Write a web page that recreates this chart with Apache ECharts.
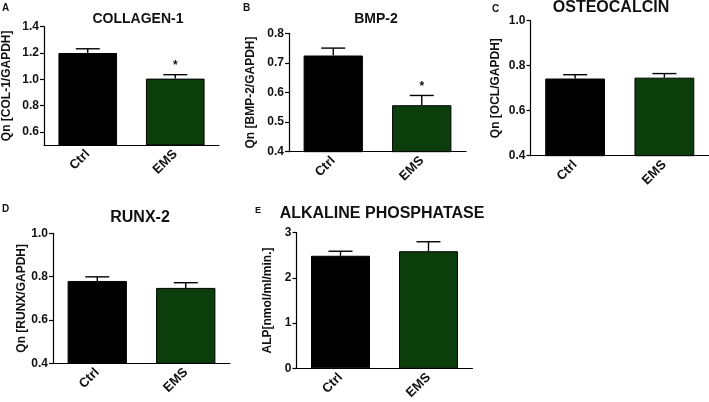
<!DOCTYPE html>
<html><head><meta charset="utf-8">
<script src="https://cdn.jsdelivr.net/npm/echarts@6/dist/echarts.min.js"></script>
<style>html,body{margin:0;padding:0;background:#fff}#c{width:709px;height:402px}</style>
</head><body><div id="c"></div>
<script>
// ---- data ----
const categories = ['Ctrl', 'EMS'];
const panelLetters = ['A', 'B', 'C', 'D', 'E'];
const panelTitles = ['COLLAGEN-1', 'BMP-2', 'OSTEOCALCIN', 'RUNX-2', 'ALKALINE PHOSPHATASE'];
const yNames = ['Qn [COL-1/GAPDH]', 'Qn [BMP-2/GAPDH]', 'Qn [OCL/GAPDH]', 'Qn [RUNX/GAPDH]', 'ALP[nmol/ml/min.]'];

const collagenMean = [1.20, 1.005];
const collagenErr  = [0.032, 0.03];
const collagenSig  = ['', '*'];
const bmpMean = [0.725, 0.557];
const bmpErr  = [0.025, 0.033];
const bmpSig  = ['', '*'];
const oclMean = [0.743, 0.747];
const oclErr  = [0.017, 0.018];
const oclSig  = ['', ''];
const runxMean = [0.780, 0.748];
const runxErr  = [0.019, 0.024];
const runxSig  = ['', ''];
const alpMean = [2.49, 2.59];
const alpErr  = [0.10, 0.21];
const alpSig  = ['', ''];

const collagenTicks = [0.6, 0.8, 1.0, 1.2, 1.4];
const bmpTicks = [0.4, 0.5, 0.6, 0.7, 0.8];
const oclTicks = [0.4, 0.6, 0.8, 1.0];
const runxTicks = [0.4, 0.6, 0.8, 1.0];
const alpTicks = [0, 1, 2, 3];

const axisMin = [0.5, 0.4, 0.4, 0.4, 0];
const axisMax = [1.4, 0.8, 1.0, 1.0, 3];

const means = [collagenMean, bmpMean, oclMean, runxMean, alpMean];
const errs = [collagenErr, bmpErr, oclErr, runxErr, alpErr];
const sigs = [collagenSig, bmpSig, oclSig, runxSig, alpSig];
const ticks = [collagenTicks, bmpTicks, oclTicks, runxTicks, alpTicks];

// ---- layout / style ----
const barColors = ['#000000', '#0c3e0c'];
const grids = [
  {left: 43, right: 709 - 219, top: 26.7, bottom: 402 - 145},
  {left: 289, right: 709 - 466, top: 33.3, bottom: 402 - 151.7},
  {left: 530.5, right: 0, top: 20.7, bottom: 402 - 155.7},
  {left: 53, right: 709 - 230, top: 233.3, bottom: 402 - 363.3},
  {left: 296.5, right: 709 - 472.5, top: 232.7, bottom: 402 - 370.7}
];
const nameGaps = [31, 32, 28.5, 24, 23];
const titlePos = [
  {x: 138, y: 18, size: 14},
  {x: 376, y: 18, size: 14},
  {x: 611, y: 7, size: 16},
  {x: 140, y: 216.7, size: 16},
  {x: 382, y: 212.5, size: 16}
];
const letterPos = [
  {x: 2, y: 3, size: 10}, {x: 243, y: 3, size: 10}, {x: 492, y: 4, size: 10},
  {x: 2, y: 204, size: 10}, {x: 255, y: 206, size: 9}
];
const FONT = 'Liberation Sans, Arial, sans-serif';
const TXT = '#111';

const title = [], grid = [], xAxis = [], yAxis = [], series = [];
for (let p = 0; p < 5; p++) {
  grid.push(Object.assign({containLabel: false}, grids[p]));
  title.push({
    text: panelTitles[p], left: titlePos[p].x, top: titlePos[p].y - titlePos[p].size * 0.6 + 2.5,
    textAlign: 'center', padding: 0,
    textStyle: {fontFamily: FONT, fontWeight: 'bold', fontSize: titlePos[p].size, color: TXT}
  });
  title.push({
    text: panelLetters[p], left: letterPos[p].x, top: letterPos[p].y, padding: 0,
    textStyle: {fontFamily: FONT, fontWeight: 'bold', fontSize: letterPos[p].size, color: TXT}
  });
  xAxis.push({
    type: 'category', gridIndex: p, data: categories, boundaryGap: true,
    axisLine: {lineStyle: {color: '#000', width: 1.2}},
    axisTick: {alignWithLabel: true, length: 4, lineStyle: {color: '#000', width: 1.2}},
    axisLabel: {rotate: 45, margin: 7, fontFamily: FONT, fontWeight: 'bold', fontSize: 13, color: TXT, interval: 0},
    splitLine: {show: false}
  });
  yAxis.push({
    type: 'value', gridIndex: p, min: axisMin[p], max: axisMax[p],
    name: yNames[p], nameLocation: 'middle', nameGap: nameGaps[p], nameRotate: 90,
    nameTextStyle: {fontFamily: FONT, fontWeight: 'bold', fontSize: 12, color: TXT},
    axisLine: {show: true, lineStyle: {color: '#000', width: 1.2}},
    axisTick: {show: true, length: 4, customValues: ticks[p], lineStyle: {color: '#000', width: 1.2}},
    axisLabel: {customValues: ticks[p], margin: 5, fontFamily: FONT, fontWeight: 'bold', fontSize: 12, color: TXT,
      formatter: v => (p === 4 ? String(v) : v.toFixed(1))},
    splitLine: {show: false}
  });
  series.push({
    type: 'bar', xAxisIndex: p, yAxisIndex: p, barWidth: '67%',
    data: means[p].map((v, i) => ({value: v, itemStyle: {color: barColors[i]}})),
    itemStyle: {borderColor: '#000', borderWidth: 1},
    silent: true, animation: false
  });
  const m = means[p], e = errs[p], s = sigs[p];
  series.push({
    type: 'custom', xAxisIndex: p, yAxisIndex: p, animation: false, silent: true, z: 5,
    data: m.map((v, i) => [i, v, v + e[i]]),
    renderItem: (params, api) => {
      const i = api.value(0);
      const a = api.coord([i, api.value(1)]);
      const b = api.coord([i, api.value(2)]);
      const hw = 12;
      const children = [
        {type: 'line', shape: {x1: a[0], y1: a[1], x2: b[0], y2: b[1]}, style: {stroke: '#000', lineWidth: 1.4}},
        {type: 'line', shape: {x1: b[0] - hw, y1: b[1], x2: b[0] + hw, y2: b[1]}, style: {stroke: '#000', lineWidth: 1.4}}
      ];
      const sg = s[i];
      if (sg) {
        children.push({type: 'text', x: b[0], y: b[1] - 9,
          style: {text: sg, fill: TXT, fontFamily: FONT, fontWeight: 'bold', fontSize: 12, align: 'center', verticalAlign: 'middle'}});
      }
      return {type: 'group', children};
    }
  });
}

const chart = echarts.init(document.getElementById('c'), null, {renderer: 'canvas'});
chart.setOption({backgroundColor: '#fff', animation: false, title, grid, xAxis, yAxis, series});
</script></body></html>
